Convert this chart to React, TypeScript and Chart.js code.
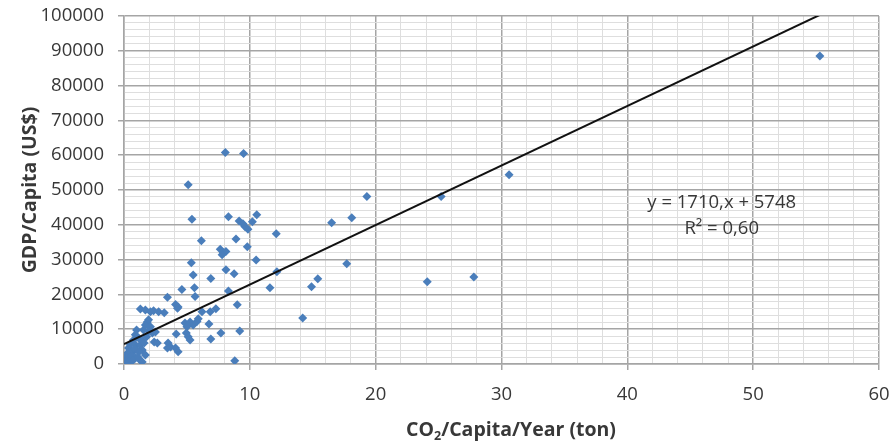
import React, { useEffect, useRef } from 'react';
import { Chart, registerables } from 'chart.js';

Chart.register(...registerables);

// CO2 per capita per year (ton)
const co2: number[] = [
  55.3, 30.6, 27.8, 25.2, 24.1, 19.3, 18.1, 17.7, 16.5, 15.4, 14.9, 14.2,
  8.05, 9.5, 5.1, 5.4, 8.3, 9.15, 9.45, 9.6, 9.85, 10.2, 10.55, 12.1,
  6.15, 8.9, 9.8, 7.65, 7.9, 8.1, 7.8, 10.5, 5.35, 8.1, 8.75, 5.5,
  12.15, 6.9, 11.6, 8.3, 4.6, 5.6, 5.65, 3.45, 4.1, 4.3, 4.25, 9.0,
  3.2, 6.2, 6.85, 7.3, 4.85, 5.25, 5.8, 5.9, 5.5, 5.0, 6.75, 4.15,
  4.95, 5.1, 5.25, 7.7, 9.2, 6.9, 3.5, 3.45, 3.7, 4.1, 4.3, 8.8,
  1.3, 1.7, 2.1, 2.35, 2.75, 1.85, 1.95, 1.7, 2.1, 1.55, 1.95, 2.25,
  2.5, 2.4, 2.65, 1.45,
  0.9, 0.75, 1.15, 0.5, 0.35, 0.3, 0.9, 1.3, 1.05, 0.65, 1.45, 1.7,
  0.1, 0.5, 0.9, 0.3, 0.05, 0.2, 0.45, 0.85, 0.6, 1.2, 1.4, 1.0,
  1.6, 1.8, 0.15, 0.4, 0.7, 1.1, 1.25,
];

// GDP per capita (US$)
const gdp: number[] = [
  88500, 54400, 25000, 48100, 23600, 48100, 42000, 28800, 40600, 24500, 22200, 13200,
  60800, 60500, 51500, 41600, 42300, 41100, 40300, 39500, 38700, 40900, 42900, 37400,
  35400, 35900, 33700, 33000, 32000, 32300, 31400, 29900, 29100, 27100, 25900, 25600,
  26500, 24600, 21900, 21000, 21400, 21900, 19400, 19200, 17100, 16400, 16000, 17000,
  14700, 15000, 15000, 15900, 11800, 12100, 12200, 13000, 11200, 10700, 11500, 8600,
  8900, 7800, 6900, 8900, 9500, 7200, 6000, 4600, 4900, 4600, 3500, 900,
  15800, 15500, 15000, 15300, 15000, 12100, 12700, 11200, 10700, 9800, 9500, 8900,
  9200, 6300, 6000, 600,
  8400, 6900, 7500, 5500, 4600, 3200, 5500, 5500, 4000, 3200, 4000, 2600,
  1700, 1200, 1700, 300, 500, 2300, 3500, 4300, 2300, 3500, 6900, 9800,
  6000, 7800, 900, 700, 1000, 2000, 1200,
];

// Linear trend line shown in the chart: y = 1710x + 5748
const trendSlope = 1710;
const trendIntercept = 5748;
const trendRange: number[] = [0, 55.3];
const equationLines: string[] = ['y = 1710,x + 5748', 'R\u00B2 = 0,60'];
const equationAnchor = { x: 47.5, y: 46400 };

const xMin = 0;
const xMax = 60;
const xMajor = 10;
const xMinor = 2;
const yMin = 0;
const yMax = 100000;
const yMajor = 10000;
const yMinor = 2000;

const yTitle = 'GDP/Capita (US$)';
const xTitleParts: string[] = ['CO', '2', '/Capita/Year (ton)'];

const TEXT = '#383838';
const MAJOR = '#a5a5a5';
const MINOR = '#dedede';
const POINT = '#4a7ebb';

const isMajor = (v: number, step: number) => {
  const r = Math.abs(v % step);
  return r < 1e-6 || Math.abs(r - step) < 1e-6;
};

const titlesPlugin = {
  id: 'titlesPlugin',
  afterDraw(chart: any) {
    const { ctx, scales, chartArea } = chart;
    ctx.save();
    ctx.fillStyle = TEXT;
    // y title
    ctx.font = 'bold 19.5px "Open Sans"';
    ctx.textAlign = 'center';
    ctx.textBaseline = 'middle';
    ctx.save();
    ctx.translate(30, (chartArea.top + chartArea.bottom) / 2);
    ctx.rotate(-Math.PI / 2);
    ctx.fillText(yTitle, 0, 0);
    ctx.restore();
    // x title with subscript
    const bigFont = 'bold 19.5px "Open Sans"';
    const smallFont = 'bold 12.5px "Open Sans"';
    ctx.font = bigFont;
    const w0 = ctx.measureText(xTitleParts[0]).width;
    const w2 = ctx.measureText(xTitleParts[2]).width;
    ctx.font = smallFont;
    const w1 = ctx.measureText(xTitleParts[1]).width;
    const total = w0 + w1 + w2;
    let x = 511 - total / 2;
    const y = 430;
    ctx.textAlign = 'left';
    ctx.font = bigFont;
    ctx.fillText(xTitleParts[0], x, y);
    x += w0;
    ctx.font = smallFont;
    ctx.fillText(xTitleParts[1], x, y + 6);
    x += w1;
    ctx.font = bigFont;
    ctx.fillText(xTitleParts[2], x, y);
    // equation
    const ex = scales.x.getPixelForValue(equationAnchor.x);
    const ey = scales.y.getPixelForValue(equationAnchor.y);
    ctx.font = '18.5px "Open Sans"';
    ctx.textAlign = 'center';
    ctx.fillText(equationLines[0], ex, ey);
    ctx.fillText(equationLines[1], ex, ey + 26);
    ctx.restore();
  },
};

export default function App() {
  const canvasRef = useRef<HTMLCanvasElement | null>(null);

  useEffect(() => {
    const canvas = canvasRef.current;
    if (!canvas) return;
    const points = co2.map((x, i) => ({ x, y: gdp[i] }));
    const trend = trendRange.map((x) => ({ x, y: trendSlope * x + trendIntercept }));

    const chart = new Chart(canvas, {
      type: 'scatter',
      data: {
        datasets: [
          {
            type: 'line',
            data: trend,
            borderColor: '#111111',
            borderWidth: 2,
            pointRadius: 0,
            fill: false,
            order: 0,
          } as any,
          {
            data: points,
            pointStyle: 'rectRot',
            pointRadius: 4.5,
            pointBorderWidth: 0,
            backgroundColor: POINT,
            borderColor: POINT,
            order: 1,
          },
        ],
      },
      options: {
        responsive: false,
        animation: false,
        devicePixelRatio: 1,
        layout: { padding: { top: 16, right: 17, bottom: 0, left: 0 } },
        plugins: { legend: { display: false }, tooltip: { enabled: false } },
        scales: {
          x: {
            type: 'linear',
            min: xMin,
            max: xMax,
            afterFit: (s: any) => {
              s.height = 78;
              s.paddingRight = 0;
              s.paddingLeft = 0;
            },
            ticks: {
              stepSize: xMinor,
              autoSkip: false,
              maxRotation: 0,
              padding: 14,
              color: TEXT,
              font: { family: '"Open Sans"', size: 18.5 },
              callback: (v: any) => (isMajor(Number(v), xMajor) ? String(v) : ''),
            },
            grid: {
              color: (c: any) => (isMajor(c.tick.value, xMajor) ? MAJOR : MINOR),
              lineWidth: (c: any) => (isMajor(c.tick.value, xMajor) ? 1.5 : 1),
              tickColor: (c: any) => (isMajor(c.tick.value, xMajor) ? MAJOR : 'rgba(0,0,0,0)'),
              tickLength: 6,
            },
            border: { color: MAJOR, width: 1.5 },
          },
          y: {
            type: 'linear',
            min: yMin,
            max: yMax,
            afterFit: (s: any) => {
              s.width = 124;
              s.paddingTop = 0;
              s.paddingBottom = 0;
            },
            ticks: {
              stepSize: yMinor,
              autoSkip: false,
              padding: 14,
              color: TEXT,
              font: { family: '"Open Sans"', size: 18.5 },
              callback: (v: any) => (isMajor(Number(v), yMajor) ? String(v) : ''),
            },
            grid: {
              color: (c: any) => (isMajor(c.tick.value, yMajor) ? MAJOR : MINOR),
              lineWidth: (c: any) => (isMajor(c.tick.value, yMajor) ? 1.5 : 1),
              tickColor: (c: any) => (isMajor(c.tick.value, yMajor) ? MAJOR : 'rgba(0,0,0,0)'),
              tickLength: 6,
            },
            border: { color: MAJOR, width: 1.5 },
          },
        },
      },
      plugins: [titlesPlugin],
    });
    return () => chart.destroy();
  }, []);

  return (
    <div style={{ position: 'fixed', left: 0, top: 0, width: 896, height: 442, background: '#ffffff' }}>
      <canvas ref={canvasRef} width={896} height={442} style={{ display: 'block', width: 896, height: 442 }} />
    </div>
  );
}
